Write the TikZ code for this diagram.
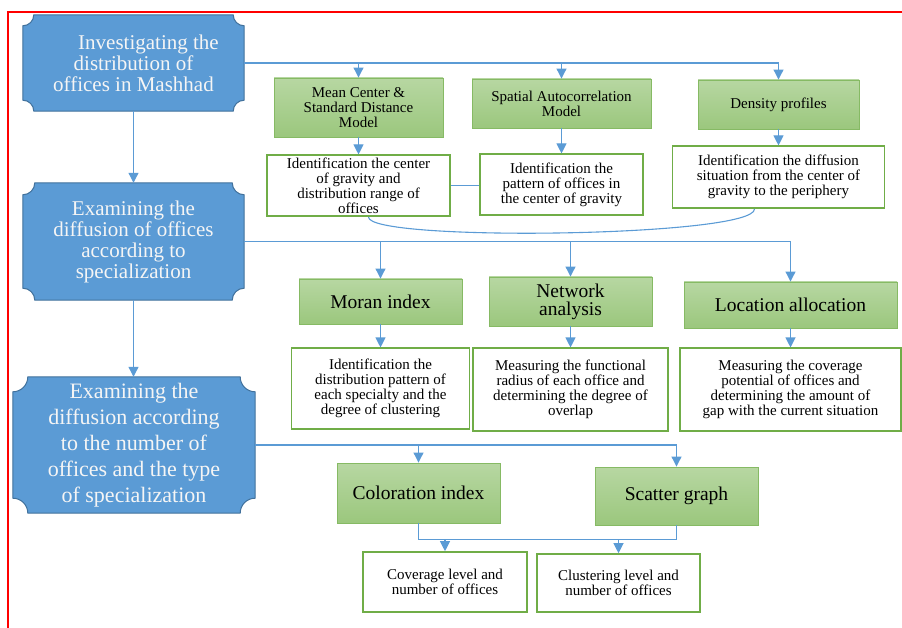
\documentclass[tikz,border=0pt]{standalone}
\usepackage{fontspec}
\setmainfont{Liberation Serif}
\usepackage{tikz}
\usetikzlibrary{positioning}
\usetikzlibrary{calc}
\usetikzlibrary{arrows.meta}
\usetikzlibrary{backgrounds}

\definecolor{stageblue}{HTML}{5B9BD5}
\definecolor{stageedge}{HTML}{41719C}
\definecolor{modeltop}{RGB}{183,215,162}
\definecolor{modelbot}{RGB}{155,199,125}
\definecolor{modeledge}{RGB}{134,186,100}
\definecolor{resultedge}{HTML}{70AD47}
\definecolor{linkblue}{HTML}{5B9BD5}

\newcommand{\plaque}[2]{%
    \path[fill=stageblue, draw=stageedge, line width=1pt]
        ([xshift=#2]#1.north west) -- ([xshift=-#2]#1.north east)
        arc[start angle=180, end angle=270, radius=#2] -- ([yshift=#2]#1.south east)
        arc[start angle=90, end angle=180, radius=#2] -- ([xshift=#2]#1.south west)
        arc[start angle=0, end angle=90, radius=#2] -- ([yshift=-#2]#1.north west)
        arc[start angle=270, end angle=360, radius=#2] -- cycle;}

\begin{document}
\begin{tikzpicture}[x=1pt, y=-1pt,
    stage/.style={inner sep=0pt, align=center, text=white!96!black, font=\fontsize{21}{21}\selectfont},
    model/.style={draw=modeledge, line width=0.9pt, top color=modeltop, bottom color=modelbot, inner sep=0pt, align=center, font=\fontsize{15}{15}\selectfont},
    method/.style={model, font=\fontsize{19.5}{18}\selectfont},
    result/.style={draw=resultedge, line width=1.6pt, fill=white, inner sep=0pt, align=center, font=\fontsize{15}{15}\selectfont},
    link/.style={linkblue, line width=1.1pt},
    flow/.style={link, -{Triangle[width=10pt, length=10pt]}}]

    \useasboundingbox (0,0) rectangle (902,628);
    \draw[red, line width=2pt] (902,12.5) -- (8,12.5) -- (8,628);

    \node[stage, minimum width=221pt, minimum height=96pt] (inv) at (133.5,63) {\hspace*{30pt}Investigating the\\distribution of\\offices in Mashhad};
    \node[stage, minimum width=221pt, minimum height=117pt] (spec) at (133.5,241.5) {Examining the\\diffusion of offices\\according to\\specialization};
    \node[stage, minimum width=242pt, minimum height=136pt, font=\fontsize{22}{26}\selectfont] (numb) at (134,445) {Examining the\\diffusion according\\to the number of\\offices and the type\\of specialization};

    \begin{scope}[on background layer]
        \plaque{inv}{11pt}
        \plaque{spec}{12pt}
        \plaque{numb}{15pt}
    \end{scope}

    \node[model, minimum width=169pt, minimum height=59pt] (mcsd) at (358.5,107.5) {Mean Center \&\\Standard Distance\\Model};
    \node[model, minimum width=179pt, minimum height=49pt] (spa) at (561.5,103.5) {Spatial Autocorrelation\\Model};
    \node[model, minimum width=161pt, minimum height=49pt] (dens) at (778.5,104.5) {Density profiles};

    \node[result, minimum width=183pt, minimum height=61pt, below=17pt of mcsd] (idc) {Identification the center\\of gravity and\\distribution range of\\offices};
    \node[result, minimum width=163pt, minimum height=61pt, below=25pt of spa] (idp) {Identification the\\pattern of offices in\\the center of gravity};
    \node[result, minimum width=212pt, minimum height=62pt, below=16pt of dens] (idd) {Identification the diffusion\\situation from the center of\\gravity to the periphery};

    \node[method, minimum width=163pt, minimum height=45pt] (moran) at (380.5,301.5) {Moran index};
    \node[method, minimum width=163pt, minimum height=49pt] (netw) at (570.5,301.5) {Network\\analysis};
    \node[method, minimum width=213pt, minimum height=46pt] (loc) at (790.5,305) {Location allocation};

    \node[result, minimum width=178pt, minimum height=81pt, below=23pt of moran] (idm) {Identification the\\distribution pattern of\\each specialty and the\\degree of clustering};
    \node[result, minimum width=195pt, minimum height=83pt, below=21pt of netw] (mfr) {Measuring the functional\\radius of each office and\\determining the degree of\\overlap};
    \node[result, minimum width=221pt, minimum height=83pt, below=19pt of loc] (mcp) {Measuring the coverage\\potential of offices and\\determining the amount of\\gap with the current situation};

    \node[method, minimum width=163pt, minimum height=60pt] (col) at (418.5,493) {Coloration index};
    \node[method, minimum width=163pt, minimum height=58pt] (scat) at (676.5,496) {Scatter graph};

    \node[result, minimum width=164pt, minimum height=60pt, font=\fontsize{15}{14.5}\selectfont] (cov) at (445,582) {Coverage level and\\number of offices};
    \node[result, minimum width=163pt, minimum height=58pt, font=\fontsize{15}{14.5}\selectfont] (clu) at (618.5,583) {Clustering level and\\number of offices};

    \draw[flow] (inv.south) -- (spec.north);
    \draw[flow] (spec.south) -- (spec.south |- numb.north);

    \draw[flow] (inv.east) -| (mcsd.north);
    \draw[flow] (inv.east) -| (spa.north);
    \draw[flow] (inv.east) -| (dens.north);
    \draw[flow] (mcsd.south) -- (mcsd.south |- idc.north);
    \draw[flow] (spa.south) -- (spa.south |- idp.north);
    \draw[flow] (dens.south) -- (dens.south |- idd.north);
    \draw[link] (idc.east) -- (idc.east -| idp.west);
    \draw[link] ([xshift=10pt]idc.south) .. controls +(0,25) and +(0,28) .. ([xshift=-24pt]idd.south);

    \draw[flow] (spec.east) -| (moran.north);
    \draw[flow] (spec.east) -| (netw.north);
    \draw[flow] (spec.east) -| (loc.north);
    \draw[flow] (moran.south) -- (moran.south |- idm.north);
    \draw[flow] (netw.south) -- (netw.south |- mfr.north);
    \draw[flow] (loc.south) -- (loc.south |- mcp.north);

    \draw[flow] (numb.east) -| (col.north);
    \draw[flow] (numb.east) -| (scat.north);
    \coordinate (bus) at ($(col.south)+(0,16)$);
    \draw[link] (col.south) -- (bus) -| (scat.south);
    \draw[flow] (bus -| cov.north) -- (cov.north);
    \draw[flow] (bus -| clu.north) -- (clu.north);

\end{tikzpicture}
\end{document}
